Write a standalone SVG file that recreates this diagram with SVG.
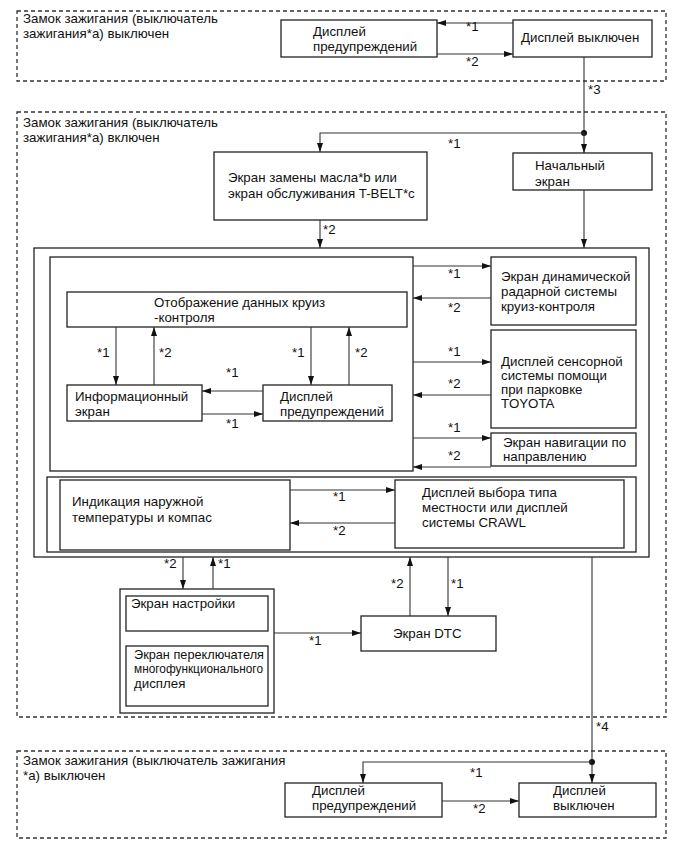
<svg xmlns="http://www.w3.org/2000/svg" width="689" height="854" viewBox="0 0 689 854">
<style>
text{font-family:"Liberation Sans",Arial,sans-serif;font-size:13.3px;fill:#111}
.box{fill:#fff;stroke:#222;stroke-width:1.3}
.zone{fill:none;stroke:#333;stroke-width:1.3;stroke-dasharray:4 3}
.c{fill:none;stroke:#333;stroke-width:1.1}
.ca{fill:none;stroke:#333;stroke-width:1.1;marker-end:url(#ah)}
</style>
<defs>
<marker id="ah" markerUnits="userSpaceOnUse" markerWidth="10" markerHeight="8" refX="9" refY="3" orient="auto">
<path d="M0,0 L9,3 L0,6 z" fill="#111"/>
</marker>
</defs>
<rect width="689" height="854" fill="#fff"/>

<g id="zones">
<rect class="zone" x="17" y="11" width="649" height="70"/>
<text x="23" y="23">Замок зажигания (выключатель</text>
<text x="23" y="38">зажигания*a) выключен</text>
<rect class="zone" x="17" y="112" width="649" height="605"/>
<text x="23" y="127">Замок зажигания (выключатель</text>
<text x="23" y="142">зажигания*a) включен</text>
<rect class="zone" x="17" y="751" width="649" height="87"/>
<text x="23" y="765">Замок зажигания (выключатель зажигания</text>
<text x="23" y="780">*a) выключен</text>
</g>

<g id="containers">
<rect class="box" x="34" y="248" width="615" height="309"/>
<rect class="box" x="50" y="257" width="363" height="214"/>
<rect class="box" x="47" y="477" width="589" height="75"/>
<rect class="box" x="120" y="589" width="154" height="124"/>
</g>

<g id="n-top-warn"><rect class="box" x="281" y="20" width="156" height="37"/>
<text x="313" y="36">Дисплей</text><text x="313" y="51">предупреждений</text></g>
<g id="n-top-off"><rect class="box" x="513" y="20" width="139" height="37"/>
<text x="521" y="42">Дисплей выключен</text></g>

<g id="n-oil"><rect class="box" x="214" y="152" width="213" height="68"/>
<text x="228" y="182">Экран замены масла*b или</text><text x="228" y="198">экран обслуживания T-BELT*c</text></g>
<g id="n-start"><rect class="box" x="513" y="153" width="139" height="37"/>
<text x="535" y="170">Начальный</text><text x="535" y="186">экран</text></g>

<g id="n-cruise"><rect class="box" x="67" y="292" width="340" height="35"/>
<text x="154" y="307">Отображение данных круиз</text><text x="154" y="322">-контроля</text></g>
<g id="n-info"><rect class="box" x="67" y="385" width="135" height="36"/>
<text x="75" y="401">Информационный</text><text x="75" y="416">экран</text></g>
<g id="n-warn"><rect class="box" x="263" y="385" width="129" height="36"/>
<text x="280" y="401">Дисплей</text><text x="280" y="416">предупреждений</text></g>

<g id="n-radar"><rect class="box" x="491" y="257" width="145" height="68"/>
<text x="501" y="281">Экран динамической</text><text x="501" y="296">радарной системы</text><text x="501" y="311">круиз-контроля</text></g>
<g id="n-park"><rect class="box" x="491" y="330" width="145" height="98"/>
<text x="501" y="366">Дисплей сенсорной</text><text x="501" y="380">системы помощи</text><text x="501" y="394">при парковке</text><text x="501" y="408">TOYOTA</text></g>
<g id="n-nav"><rect class="box" x="491" y="433" width="145" height="33"/>
<text x="503" y="447">Экран навигации по</text><text x="503" y="461">направлению</text></g>

<g id="n-temp"><rect class="box" x="60" y="480" width="230" height="70"/>
<text x="72" y="506">Индикация наружной</text><text x="72" y="522">температуры и компас</text></g>
<g id="n-terrain"><rect class="box" x="395" y="480" width="229" height="68"/>
<text x="422" y="497">Дисплей выбора типа</text><text x="422" y="512">местности или дисплей</text><text x="422" y="527">системы CRAWL</text></g>

<g id="n-setup"><rect class="box" x="126" y="596" width="142" height="35"/>
<text x="131" y="608">Экран настройки</text></g>
<g id="n-multi"><rect class="box" x="126" y="646" width="142" height="60"/>
<text x="134" y="659" textLength="130" lengthAdjust="spacingAndGlyphs">Экран переключателя</text>
<text x="134" y="673" style="font-size:12px" textLength="129" lengthAdjust="spacingAndGlyphs">многофункционального</text>
<text x="134" y="688">дисплея</text></g>
<g id="n-dtc"><rect class="box" x="361" y="616" width="135" height="35"/>
<text x="393" y="638">Экран DTC</text></g>

<g id="n-bot-warn"><rect class="box" x="285" y="783" width="157" height="34"/>
<text x="312" y="795">Дисплей</text><text x="312" y="810">предупреждений</text></g>
<g id="n-bot-off"><rect class="box" x="519" y="783" width="137" height="34"/>
<text x="553" y="795">Дисплей</text><text x="553" y="810">выключен</text></g>

<g id="connectors">
<line class="ca" x1="513" y1="23" x2="437" y2="23"/><text x="466" y="31">*1</text>
<line class="ca" x1="437" y1="54" x2="513" y2="54"/><text x="466" y="66">*2</text>
<line class="c" x1="584" y1="57" x2="584" y2="133"/><text x="588" y="94">*3</text>
<circle cx="584" cy="133" r="3" fill="#111"/>
<polyline class="ca" points="584,133 320,133 320,152"/><text x="448" y="148">*1</text>
<line class="ca" x1="584" y1="133" x2="584" y2="153"/>
<line class="ca" x1="320" y1="220" x2="320" y2="248"/><text x="323" y="234">*2</text>
<line class="ca" x1="584" y1="190" x2="584" y2="248"/>

<line class="ca" x1="116" y1="327" x2="116" y2="385"/><text x="97" y="357">*1</text>
<line class="ca" x1="154" y1="385" x2="154" y2="327"/><text x="159" y="357">*2</text>
<line class="ca" x1="311" y1="327" x2="311" y2="385"/><text x="292" y="357">*1</text>
<line class="ca" x1="349" y1="385" x2="349" y2="327"/><text x="355" y="357">*2</text>
<line class="ca" x1="263" y1="391" x2="202" y2="391"/><text x="226" y="377">*1</text>
<line class="ca" x1="202" y1="414" x2="263" y2="414"/><text x="226" y="428">*1</text>

<line class="ca" x1="413" y1="266" x2="491" y2="266"/><text x="448" y="278">*1</text>
<line class="ca" x1="491" y1="298" x2="413" y2="298"/><text x="448" y="312">*2</text>
<line class="ca" x1="413" y1="362" x2="491" y2="362"/><text x="448" y="356">*1</text>
<line class="ca" x1="491" y1="395" x2="413" y2="395"/><text x="448" y="388">*2</text>
<line class="ca" x1="413" y1="438" x2="491" y2="438"/><text x="448" y="432">*1</text>
<line class="ca" x1="491" y1="467" x2="413" y2="467"/><text x="448" y="460">*2</text>

<line class="ca" x1="290" y1="490" x2="395" y2="490"/><text x="333" y="501">*1</text>
<line class="ca" x1="395" y1="523" x2="290" y2="523"/><text x="333" y="535">*2</text>

<line class="ca" x1="183" y1="557" x2="183" y2="589"/><text x="164" y="568">*2</text>
<line class="ca" x1="213" y1="589" x2="213" y2="557"/><text x="218" y="568">*1</text>
<line class="ca" x1="274" y1="633" x2="361" y2="633"/><text x="309" y="645">*1</text>
<line class="ca" x1="410" y1="616" x2="410" y2="557"/><text x="391" y="588">*2</text>
<line class="ca" x1="448" y1="557" x2="448" y2="616"/><text x="451" y="588">*1</text>

<line class="ca" x1="592" y1="557" x2="592" y2="783"/><text x="596" y="731">*4</text>
<circle cx="592" cy="762" r="3" fill="#111"/>
<polyline class="ca" points="592,762 363,762 363,783"/><text x="470" y="777">*1</text>
<line class="ca" x1="442" y1="801" x2="519" y2="801"/><text x="473" y="813">*2</text>
</g>
</svg>
